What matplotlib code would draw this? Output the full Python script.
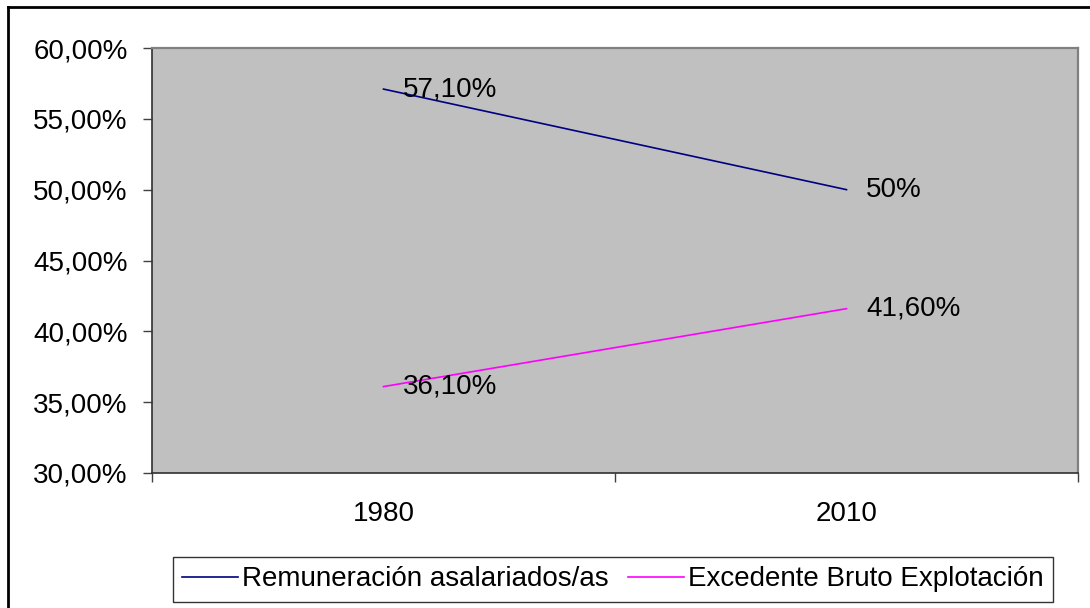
# Remuneración vs Excedente, 1980-2010

import matplotlib.pyplot as plt
from matplotlib.lines import Line2D
from matplotlib.ticker import FuncFormatter, FixedLocator

plt.rcParams['font.family'] = ['Liberation Sans', 'DejaVu Sans']

years = ['1980', '2010']
remuneracion = [57.1, 50.0]
excedente = [36.1, 41.6]
rem_labels = ['57,10%', '50%']
exc_labels = ['36,10%', '41,60%']
series_names = ['Remuneración asalariados/as', 'Excedente Bruto Explotación']

fs = 20

fig = plt.figure(figsize=(10.9, 6.08), dpi=100)
ax = fig.add_axes([152 / 1090, 1 - 473 / 608, (1078 - 152) / 1090, (473 - 48) / 608])
ax.set_facecolor('#C0C0C0')

x = list(range(len(years)))
l1, = ax.plot(x, remuneracion, color='#000080', lw=1.2)
l2, = ax.plot(x, excedente, color='#FF00FF', lw=1.2)

for xi, v, t in zip(x, remuneracion, rem_labels):
    ax.annotate(t, (xi, v), xytext=(14, 0), textcoords='offset points',
                va='center', ha='left', fontsize=fs)
for xi, v, t in zip(x, excedente, exc_labels):
    ax.annotate(t, (xi, v), xytext=(14, 0), textcoords='offset points',
                va='center', ha='left', fontsize=fs)

ax.set_xlim(-0.5, len(years) - 0.5)
ax.set_ylim(30, 60)
ax.set_yticks(range(30, 61, 5))
ax.yaxis.set_major_formatter(FuncFormatter(lambda v, p: f'{v:.2f}%'.replace('.', ',')))
ax.set_xticks(x)
ax.set_xticklabels(years)
ax.xaxis.set_minor_locator(FixedLocator([-0.5, 0.5, 1.5]))
ax.tick_params(axis='x', which='major', length=0, pad=20, labelsize=fs)
ax.tick_params(axis='x', which='minor', length=6.5, direction='out', width=1, color='#404040')
ax.tick_params(axis='y', length=6.5, direction='out', width=1, color='#404040',
               labelsize=fs, pad=11)

for s in ['top', 'right']:
    ax.spines[s].set_color('#808080')
    ax.spines[s].set_linewidth(1.6)
for s in ['left', 'bottom']:
    ax.spines[s].set_color('#303030')
    ax.spines[s].set_linewidth(1.2)

leg = fig.legend([l1, l2], series_names, loc='center',
                 bbox_to_anchor=(613 / 1090, 1 - 579.5 / 608), ncol=2,
                 fontsize=fs, frameon=True, fancybox=False, handlelength=2.0,
                 handletextpad=0.15, columnspacing=0.7, borderpad=0.35,
                 borderaxespad=0)
leg.get_frame().set_edgecolor('black')
leg.get_frame().set_linewidth(1)

# outer chart border: only top and left are visible in the reference
fig.lines.append(Line2D([8 / 1090, 8 / 1090], [0, 1 - 7 / 608],
                        transform=fig.transFigure, color='black', lw=2))
fig.lines.append(Line2D([8 / 1090, 1], [1 - 7 / 608, 1 - 7 / 608],
                        transform=fig.transFigure, color='black', lw=2))

fig.savefig('out.png', dpi=100)
